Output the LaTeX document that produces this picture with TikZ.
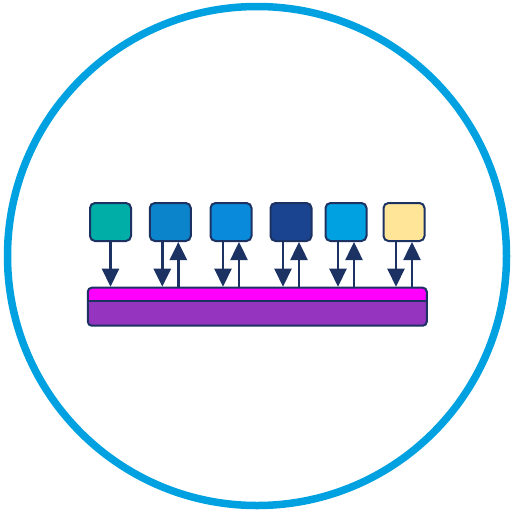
\documentclass[tikz,border=0pt]{standalone}
\usetikzlibrary{arrows.meta}
\definecolor{ring}{HTML}{00A1E0}
\definecolor{navy}{HTML}{1B3263}
\definecolor{cA}{HTML}{00AEA8}
\definecolor{cB}{HTML}{0B84CC}
\definecolor{cC}{HTML}{0A8ADA}
\definecolor{cD}{HTML}{1A4490}
\definecolor{cE}{HTML}{00A1E0}
\definecolor{cF}{HTML}{FFE597}
\definecolor{mag}{HTML}{FF00FF}
\definecolor{purp}{HTML}{9534BE}
\begin{document}
\begin{tikzpicture}[x=1pt,y=-1pt,
  box/.style={draw=navy,line width=2pt,rounded corners=5pt,minimum width=41pt,minimum height=38pt,inner sep=0pt},
  arr/.style={draw=navy,line width=2.5pt,-{Triangle[width=17pt,length=18pt]},shorten >=0pt}]
\useasboundingbox (0,0) rectangle (514,512);
\draw[ring,line width=7.5pt] (257,256) circle[radius=249.5];
\node[box,fill=cA] (b1) at (110.5,222) {};
\node[box,fill=cB] (b2) at (170.3,222) {};
\node[box,fill=cC] (b3) at (231,222) {};
\node[box,fill=cD] (b4) at (291,222) {};
\node[box,fill=cE] (b5) at (346,222) {};
\node[box,fill=cF] (b6) at (404,222) {};
\node[draw=navy,line width=2pt,rounded corners=4pt,minimum width=339pt,minimum height=38pt,inner sep=0pt,fill=purp,
  path picture={\fill[mag] ([yshift=-13pt]path picture bounding box.north west) rectangle (path picture bounding box.north east);
  \draw[navy,line width=2pt] ([yshift=-13pt]path picture bounding box.north west) -- ([yshift=-13pt]path picture bounding box.north east);}] (bar) at (257.3,306.7) {};
\draw[arr] (b1.south) -- (b1.south |- bar.north);
\foreach \b in {b2,b3,b4,b5,b6}{
  \draw[arr] ([xshift=-8pt]\b.south) -- ([xshift=-8pt]\b.south |- bar.north);
  \draw[arr] ([xshift=8pt]\b.south |- bar.north) -- ([xshift=8pt]\b.south);
}
\end{tikzpicture}
\end{document}
